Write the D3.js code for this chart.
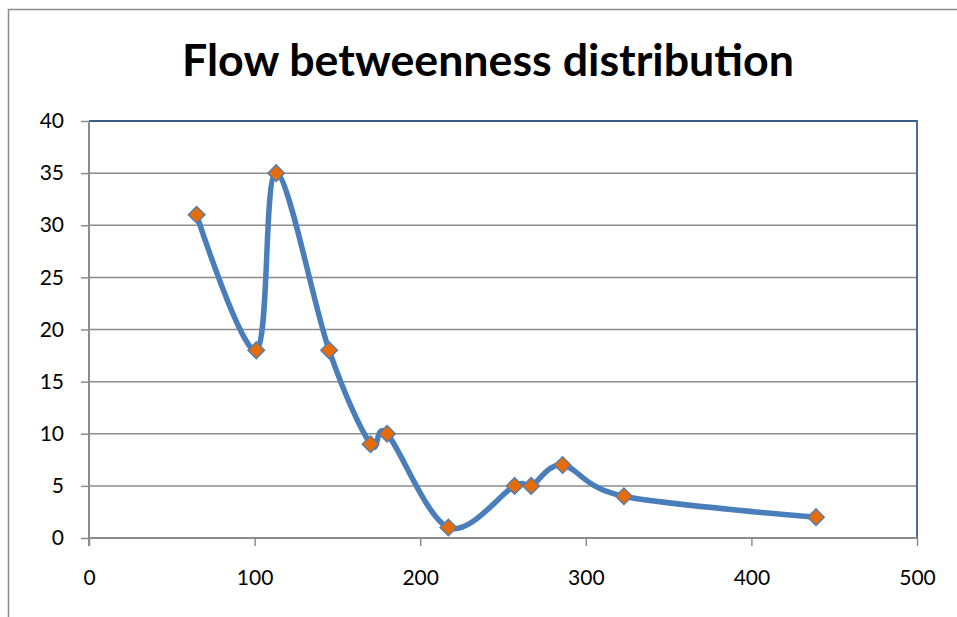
<!DOCTYPE html>
<html><head><meta charset="utf-8">
<script src="https://cdn.jsdelivr.net/npm/d3@7"></script>
<style>body{margin:0;background:#fff}svg{display:block}</style>
</head><body>
<svg id="c" width="957" height="617"></svg>
<script>
const title = "Flow betweenness distribution";
const xValues = [65, 101, 113, 145, 170, 180, 217, 257, 267, 286, 323, 439];
const yValues = [31, 18, 35, 18, 9, 10, 1, 5, 5, 7, 4, 2];
const xTicks = [0, 100, 200, 300, 400, 500];
const yTicks = [0, 5, 10, 15, 20, 25, 30, 35, 40];

const svg = d3.select("#c");
const L = 89, R = 917, T = 121, B = 538;
const x = d3.scaleLinear().domain([0, 500]).range([L, R]);
const y = d3.scaleLinear().domain([0, 40]).range([B, T]);
const font = "Lato, 'Open Sans', sans-serif";

// outer frame
svg.append("path").attr("d", `M8.5,617 L8.5,9.5 L957,9.5`)
  .attr("fill", "none").attr("stroke", "#8a8a8a").attr("stroke-width", 1.5);

// title
svg.append("text").attr("x", 488).attr("y", 76).attr("text-anchor", "middle")
  .attr("font-family", font).attr("font-weight", "bold").attr("font-size", 43)
  .attr("textLength", 612).attr("lengthAdjust", "spacingAndGlyphs")
  .attr("fill", "#000").text(title);

// gridlines
svg.append("g").selectAll("line").data(yTicks.filter(d => d > 0 && d < 40)).join("line")
  .attr("x1", L).attr("x2", R).attr("y1", d => y(d)).attr("y2", d => y(d))
  .attr("stroke", "#8c8c8c").attr("stroke-width", 1.5);

// plot border top & right (blue)
svg.append("path").attr("d", `M${L},${T} L${R},${T} L${R},${B}`)
  .attr("fill", "none").attr("stroke", "#385d8a").attr("stroke-width", 1.8);

// y axis
const yAxis = d3.axisLeft(y).tickValues(yTicks).tickSize(8).tickPadding(10).tickFormat(d3.format("d"));
const gy = svg.append("g").attr("transform", `translate(${L},0)`).call(yAxis);
gy.select(".domain").attr("stroke", "#8c8c8c").attr("stroke-width", 2).attr("d", `M0,${T}V${B+8}`);
gy.selectAll(".tick line").attr("stroke", "#8c8c8c").attr("stroke-width", 1.5);
gy.selectAll(".tick text").attr("font-family", font).attr("font-size", 21).attr("fill", "#000").attr("x", -25);

// x axis
const xAxis = d3.axisBottom(x).tickValues(xTicks).tickSize(8).tickPadding(24).tickFormat(d3.format("d"));
const gx = svg.append("g").attr("transform", `translate(0,${B})`).call(xAxis);
gx.select(".domain").attr("stroke", "#8c8c8c").attr("stroke-width", 2).attr("d", `M${L},0H${R}`);
gx.selectAll(".tick line").attr("stroke", "#8c8c8c").attr("stroke-width", 1.5);
gx.selectAll(".tick text").attr("font-family", font).attr("font-size", 21).attr("fill", "#000");

// line
const pts = xValues.map((v, i) => [v, yValues[i]]);
const line = d3.line().x(d => x(d[0])).y(d => y(d[1])).curve(d3.curveCatmullRom.alpha(0));
svg.append("path").datum(pts).attr("d", line)
  .attr("fill", "none").attr("stroke", "#4a7ebb").attr("stroke-width", 5.5)
  .attr("stroke-linejoin", "round").attr("stroke-linecap", "round");

// markers
const sym = d3.symbol().type(d3.symbolSquare).size(140);
svg.append("g").selectAll("path").data(pts).join("path")
  .attr("d", sym)
  .attr("transform", d => `translate(${x(d[0])},${y(d[1])}) rotate(45)`)
  .attr("fill", "#e46c0a").attr("stroke", "#4a7ebb").attr("stroke-width", 1.3);
</script>
</body></html>
